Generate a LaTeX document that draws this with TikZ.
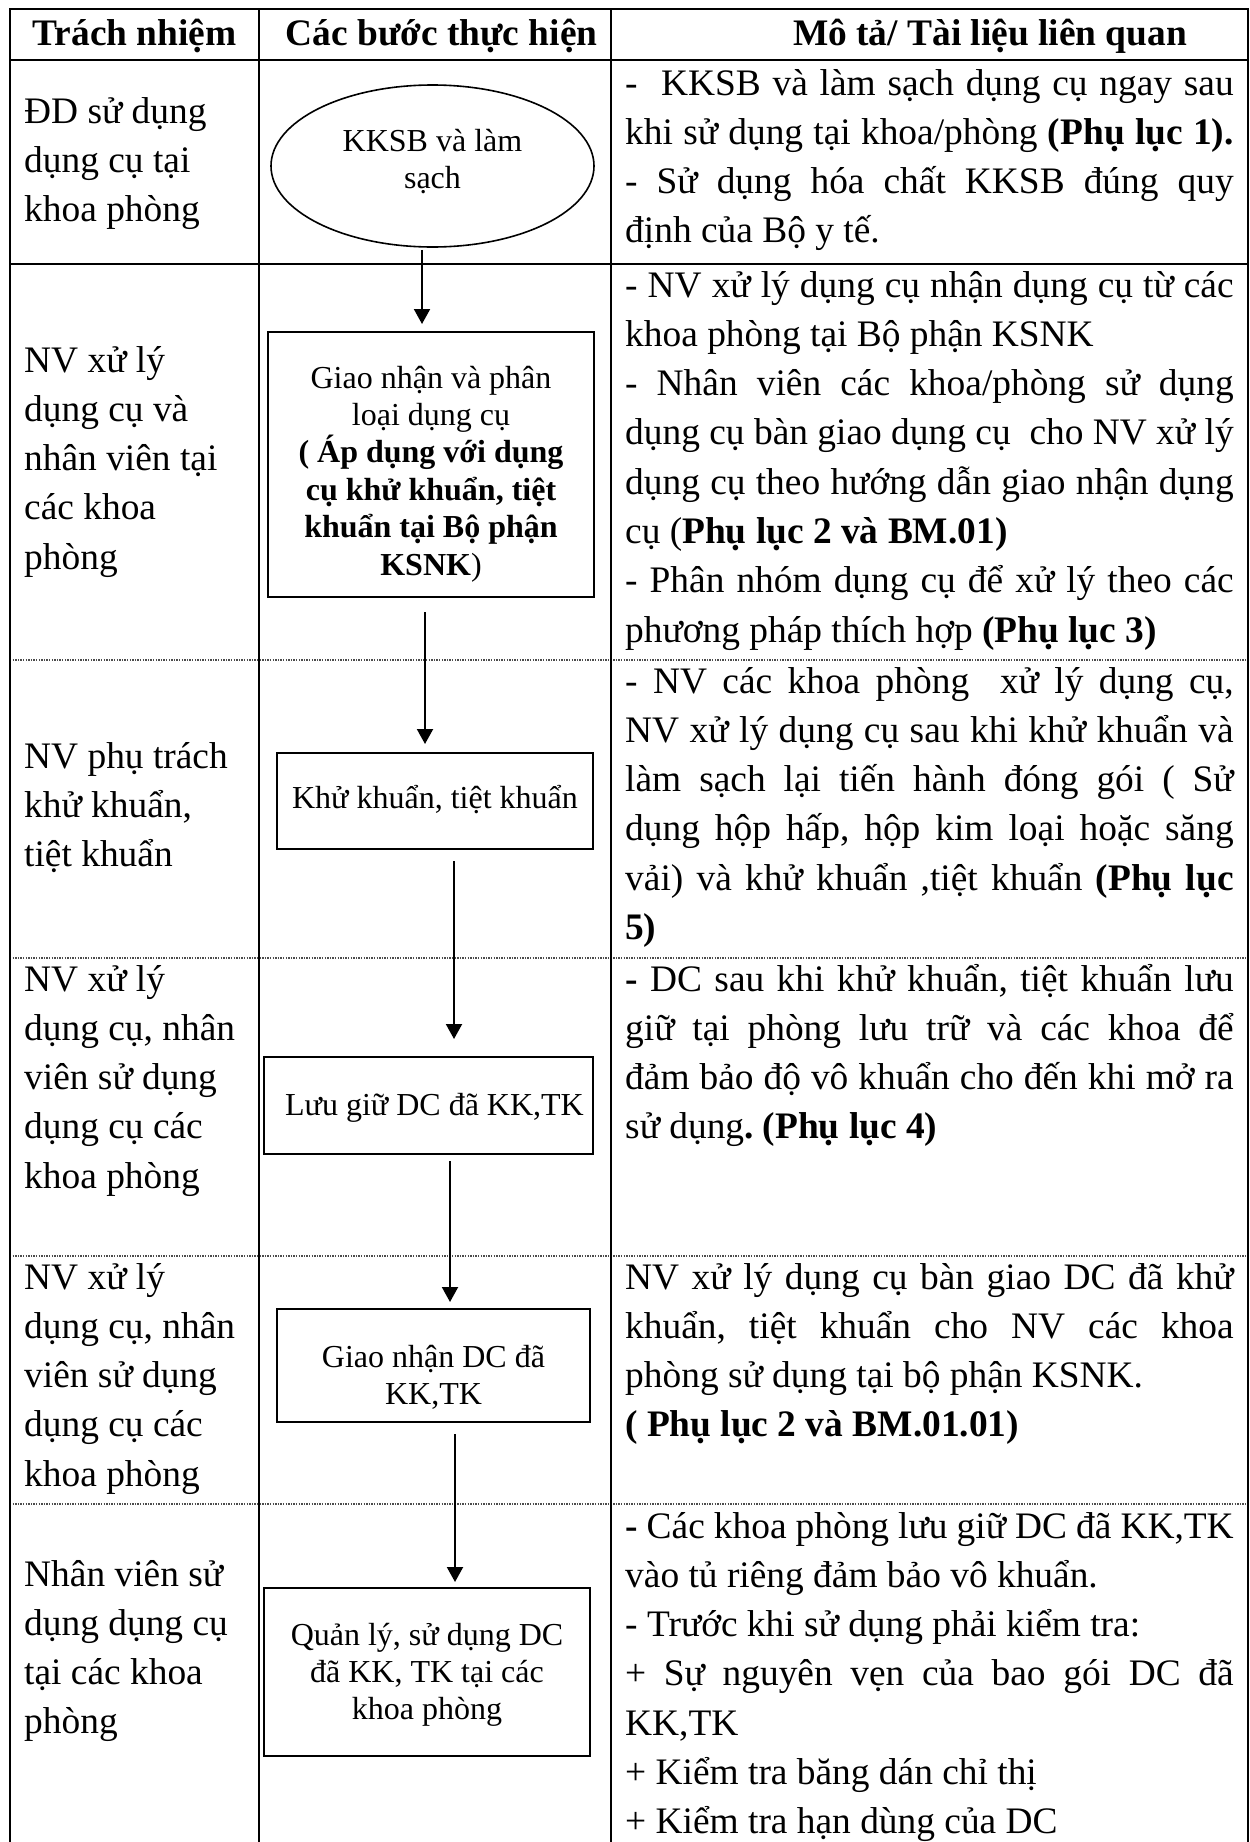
\documentclass[tikz,border=0pt]{standalone}
\usepackage{fontspec}
\setmainfont{Liberation Serif}
\usetikzlibrary{shapes.geometric,arrows.meta}
\newcommand\jl[1]{\hbox to\linewidth{#1}}
\newcommand\nl[1]{\hbox{#1}}
\newcommand\tstr[1]{\rule{0pt}{#1pt}}
\newcommand\bstr[1]{\rule[-#1pt]{0pt}{0pt}}
\newcommand\bodyfont{\fontsize{37.4}{49.3}\selectfont\frenchspacing}
\newcommand\boxfont{\fontsize{32}{37.4}\selectfont}
\tikzset{
  tbl/.style={line width=2.4pt},
  dotl/.style={line width=1.2pt, black!70, dash pattern=on 1.3pt off 1.3pt},
  stepbox/.style={draw, line width=2pt, inner sep=0pt, align=center, font=\boxfont},
  stepell/.style={draw, ellipse, line width=1.6pt, inner sep=0pt, align=center, font=\boxfont},
  arr/.style={line width=2pt, -{Triangle[length=15pt,width=16pt]}},
  hdr/.style={anchor=base, inner sep=0pt, font=\bfseries\bodyfont},
  cell/.style={anchor=base west, inner sep=0pt},
}
\begin{document}
\begin{tikzpicture}[x=1pt,y=-1pt]
\useasboundingbox (0,0) rectangle (1250,1842);
\clip (0,0) rectangle (1250,1842);
% ---- table grid ----
\draw[dotl] (10,660) -- (1248,660);
\draw[dotl] (10,958) -- (1248,958);
\draw[dotl] (10,1256) -- (1248,1256);
\draw[dotl] (10,1504) -- (1248,1504);
\draw[tbl] (10,9) -- (1248,9);
\draw[tbl] (10,60) -- (1248,60);
\draw[tbl] (10,264) -- (1248,264);
\draw[tbl] (10,8) -- (10,1860);
\draw[tbl] (259,8) -- (259,1860);
\draw[tbl] (611,8) -- (611,1860);
\draw[tbl] (1248,8) -- (1248,1860);
% ---- header ----
\node[hdr] (h1) at (134.5,45.7) {Trách nhiệm};
\node[hdr] (h2) at (441.5,45.7) {Các bước thực hiện};
\node[hdr] (h3) at (990,45.7) {Mô tả/ Tài liệu liên quan};
% ---- responsibility column ----
\node[cell] (r1) at (24,123) {\parbox[t]{230pt}{\bodyfont
\nl{ĐD sử dụng}\nl{dụng cụ tại}\nl{khoa phòng}}};
\node[cell] (r2) at (24,372) {\parbox[t]{230pt}{\bodyfont
\nl{NV xử lý}\nl{dụng cụ và}\nl{nhân viên tại}\nl{các khoa}\nl{phòng}}};
\node[cell] (r3) at (24,768) {\parbox[t]{230pt}{\bodyfont
\nl{NV phụ trách}\nl{khử khuẩn,}\nl{tiệt khuẩn}}};
\node[cell] (r4) at (24,991) {\parbox[t]{230pt}{\bodyfont
\nl{NV xử lý}\nl{dụng cụ, nhân}\nl{viên sử dụng}\nl{dụng cụ các}\nl{khoa phòng}}};
\node[cell] (r5) at (24,1289) {\parbox[t]{230pt}{\bodyfont
\nl{NV xử lý}\nl{dụng cụ, nhân}\nl{viên sử dụng}\nl{dụng cụ các}\nl{khoa phòng}}};
\node[cell] (r6) at (24,1586) {\parbox[t]{230pt}{\bodyfont
\nl{Nhân viên sử}\nl{dụng dụng cụ}\nl{tại các khoa}\nl{phòng}}};
% ---- steps column ----
\node[stepell, minimum width=323pt, minimum height=162pt] (e1) at (432.5,166)
  {\tstr{24}KKSB và làm\\sạch\bstr{16.6}};
\node[stepbox, minimum width=326pt, minimum height=265pt] (b2) at (431,464.5)
  {\tstr{44}Giao nhận và phân\\loại dụng cụ\\\textbf{( Áp dụng với dụng}\\\textbf{cụ khử khuẩn, tiệt}\\\textbf{khuẩn tại Bộ phận}\\\textbf{KSNK})\bstr{10}};
\node[stepbox, minimum width=316pt, minimum height=96pt] (b3) at (435,801)
  {\tstr{30}Khử khuẩn, tiệt khuẩn\bstr{16}};
\node[stepbox, minimum width=329pt, minimum height=97pt] (b4) at (428.5,1105.5)
  {\tstr{28}\hspace{12pt}Lưu giữ DC đã KK,TK\bstr{9}};
\node[stepbox, minimum width=313pt, minimum height=113pt] (b5) at (433.5,1365.5)
  {\tstr{48.4}Giao nhận DC đã\\KK,TK\bstr{8}};
\node[stepbox, minimum width=326pt, minimum height=168pt] (b6) at (427,1672)
  {\tstr{30.8}Quản lý, sử dụng DC\\đã KK, TK tại các\\khoa phòng\bstr{10}};
\draw[arr] ([xshift=-10.5pt,yshift=-2pt]e1.south) -- ([xshift=-9pt,yshift=7pt]b2.north);
\draw[arr] ([xshift=-6pt,yshift=-14pt]b2.south) -- ([xshift=-10pt,yshift=8pt]b3.north);
\draw[arr] ([xshift=19pt,yshift=-11pt]b3.south) -- ([xshift=25.5pt,yshift=17pt]b4.north);
\draw[arr] ([xshift=21.5pt,yshift=-6pt]b4.south) -- ([xshift=16.5pt,yshift=6pt]b5.north);
\draw[arr] ([xshift=21.5pt,yshift=-11pt]b5.south) -- ([xshift=28pt,yshift=5pt]b6.north);
% ---- description column ----
\node[cell] (d1) at (625,95) {\parbox[t]{608.5pt}{\bodyfont
\jl{-\ \ KKSB và làm sạch dụng cụ ngay sau}
\jl{khi sử dụng tại khoa/phòng \textbf{(Phụ lục 1).}}
\jl{- Sử dụng hóa chất KKSB đúng quy}
\nl{định của Bộ y tế.}}};
\node[cell] (d2) at (625,297) {\parbox[t]{608.5pt}{\bodyfont
\jl{- NV xử lý dụng cụ nhận dụng cụ từ các}
\nl{khoa phòng tại Bộ phận KSNK}
\jl{- Nhân viên các khoa/phòng sử dụng}
\jl{dụng cụ bàn giao dụng cụ \ cho NV xử lý}
\jl{dụng cụ theo hướng dẫn giao nhận dụng}
\nl{cụ (\textbf{Phụ lục 2 và BM.01)}}
\jl{- Phân nhóm dụng cụ để xử lý theo các}
\nl{phương pháp thích hợp \textbf{(Phụ lục 3)}}}};
\node[cell] (d3) at (625,693) {\parbox[t]{608.5pt}{\bodyfont
\jl{- NV các khoa phòng \ xử lý dụng cụ,}
\jl{NV xử lý dụng cụ sau khi khử khuẩn và}
\jl{làm sạch lại tiến hành đóng gói ( Sử}
\jl{dụng hộp hấp, hộp kim loại hoặc săng}
\jl{vải) và khử khuẩn ,tiệt khuẩn \textbf{(Phụ lục}}
\nl{\textbf{5)}}}};
\node[cell] (d4) at (625,991) {\parbox[t]{608.5pt}{\bodyfont
\jl{\textbf{-} DC sau khi khử khuẩn, tiệt khuẩn lưu}
\jl{giữ tại phòng lưu trữ và các khoa để}
\jl{đảm bảo độ vô khuẩn cho đến khi mở ra}
\nl{sử dụng\textbf{. (Phụ lục 4)}}}};
\node[cell] (d5) at (625,1289) {\parbox[t]{608.5pt}{\bodyfont
\jl{NV xử lý dụng cụ bàn giao DC đã khử}
\jl{khuẩn, tiệt khuẩn cho NV các khoa}
\nl{phòng sử dụng tại bộ phận KSNK.}
\nl{\textbf{( Phụ lục 2 và BM.01.01)}}}};
\node[cell] (d6) at (625,1538) {\parbox[t]{608.5pt}{\bodyfont
\jl{\textbf{-} Các khoa phòng lưu giữ DC đã KK,TK}
\nl{vào tủ riêng đảm bảo vô khuẩn.}
\nl{- Trước khi sử dụng phải kiểm tra:}
\jl{+ Sự nguyên vẹn của bao gói DC đã}
\nl{KK,TK}
\nl{+ Kiểm tra băng dán chỉ thị}
\nl{+ Kiểm tra hạn dùng của DC}}};
\end{tikzpicture}
\end{document}
